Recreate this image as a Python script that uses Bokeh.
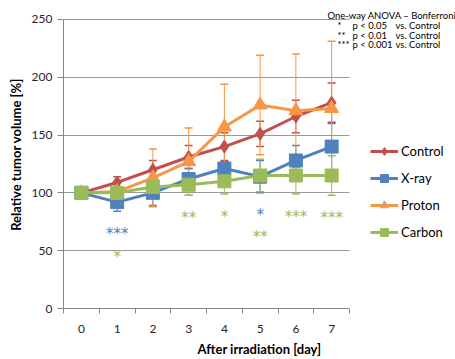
from bokeh.plotting import figure
from bokeh.models import (Range1d, FixedTicker, ColumnDataSource, Whisker, TeeHead,
                          Legend, LegendItem, Label)
from bokeh.core.properties import value
from bokeh.embed import file_html
from bokeh.resources import INLINE

# ---- data ----
days = [0, 1, 2, 3, 4, 5, 6, 7]
day_labels = ["0", "1", "2", "3", "4", "5", "6", "7"]
y_ticks = [0, 50, 100, 150, 200, 250]

series_names = ["Control", "X-ray", "Proton", "Carbon"]
control = [100, 109, 120, 131, 140, 151, 166, 178]
control_err = [0, 5, 8, 10, 12, 11, 14, 17]
xray = [100, 92, 100, 112, 121, 114, 128, 140]
xray_err = [0, 8, 11, 9, 6, 14, 13, 20]
proton = [100, 101, 113, 127, 157, 176, 171, 173]
proton_err = [0, 3, 25, 29, 37, 43, 49, 58]
carbon = [100, 100, 105, 107, 110, 115, 115, 115]
carbon_err = [0, 3, 4, 9, 11, 14, 16, 17]

star_day = [1, 1, 3, 4, 5, 5, 6, 7]
star_y = [72, 52, 86, 87, 89, 70, 87, 86]
star_text = ["***", "*", "**", "*", "*", "**", "***", "***"]
star_series = ["X-ray", "Carbon", "Carbon", "Carbon", "X-ray", "Carbon", "Carbon", "Carbon"]

note_title = "One-way ANOVA \u2013 Bonferroni"
note_stars = ["*", "**", "***"]
note_p = ["p < 0.05", "p < 0.01", "p < 0.001"]
note_vs = ["vs. Control", "vs. Control", "vs. Control"]

colors = {"Control": "#C0504D", "X-ray": "#4F81BD", "Proton": "#F79646", "Carbon": "#9BBB59"}
markers = {"Control": ("diamond", 13), "X-ray": ("square", 13), "Proton": ("triangle", 14), "Carbon": ("square", 13)}
vals = {"Control": (control, control_err), "X-ray": (xray, xray_err),
        "Proton": (proton, proton_err), "Carbon": (carbon, carbon_err)}

FONT = "Lato"
GRID = "#999999"
AXIS = "#868686"
TXT = "#262626"

# frame spans the whole area right of the y axis, so that the notes and legend are not clipped
W, H = 455, 359
LEFT, BOTTOM = 63, 49
PX_PER_DAY = 35.75
PX_PER_PCT = 1.164
x_end = -0.5 + (W - LEFT) / PX_PER_DAY
y_end = (H - BOTTOM) / PX_PER_PCT

p = figure(width=W, height=H, output_backend="svg", toolbar_location=None,
           x_range=Range1d(-0.5, x_end), y_range=Range1d(0, y_end),
           min_border_left=LEFT, min_border_right=0, min_border_top=0, min_border_bottom=BOTTOM)
p.outline_line_color = None
p.background_fill_color = "white"

# axes
p.xaxis.ticker = FixedTicker(ticks=days, minor_ticks=[d - 0.5 for d in days] + [days[-1] + 0.5])
p.xaxis.bounds = (-0.5, days[-1] + 0.5)
p.xaxis.major_label_overrides = {d: l for d, l in zip(days, day_labels)}
p.xaxis.major_tick_line_color = None
p.xaxis.major_tick_out = 0
p.xaxis.major_tick_in = 0
p.xaxis.minor_tick_line_color = AXIS
p.xaxis.minor_tick_out = 5
p.xaxis.minor_tick_in = 0
p.xaxis.major_label_standoff = 11
p.xaxis.axis_label = "After irradiation [day]"
p.xaxis.axis_label_standoff = 5

p.yaxis.ticker = FixedTicker(ticks=y_ticks)
p.yaxis.bounds = (y_ticks[0], y_ticks[-1])
p.yaxis.minor_tick_line_color = None
p.yaxis.major_tick_out = 6
p.yaxis.major_tick_in = 0
p.yaxis.major_tick_line_color = AXIS
p.yaxis.major_label_standoff = 5
p.yaxis.axis_label = "Relative tumor volume [%]"
p.yaxis.axis_label_standoff = 5

for ax in (p.xaxis, p.yaxis):
    ax.axis_line_color = AXIS
    ax.major_label_text_font = FONT
    ax.major_label_text_font_size = "12px"
    ax.major_label_text_color = TXT
    ax.axis_label_text_font = FONT
    ax.axis_label_text_font_size = "13px"
    ax.axis_label_text_font_style = "bold"
    ax.axis_label_text_color = "#000000"

p.xgrid.grid_line_color = None
p.ygrid.ticker = FixedTicker(ticks=y_ticks)
p.ygrid.grid_line_color = GRID
p.ygrid.cross_bounds = (-0.5, days[-1] + 0.5)

for name in series_names:
    ys, errs = vals[name]
    c = colors[name]
    src = ColumnDataSource(dict(
        x=days[1:], upper=[v + e for v, e in zip(ys[1:], errs[1:])],
        lower=[v - e for v, e in zip(ys[1:], errs[1:])]))
    w = Whisker(source=src, base="x", upper="upper", lower="lower", dimension="height",
                line_color=c, line_width=1, level="underlay",
                upper_head=TeeHead(size=8, line_color=c, line_width=1.5),
                lower_head=TeeHead(size=8, line_color=c, line_width=1.5))
    p.add_layout(w)

items = []
for name in series_names:
    ys, errs = vals[name]
    c = colors[name]
    mk, sz = markers[name]
    lr = p.line(days, ys, line_color=c, line_width=3)
    sr = p.scatter(days, ys, marker=mk, size=sz, fill_color=c, line_color=c)
    items.append(LegendItem(label=name, renderers=[lr, sr]))

legend = Legend(items=items, location=(307, 66), padding=0, margin=0, spacing=7,
                glyph_width=28, glyph_height=20, label_height=20,
                label_text_font=FONT, label_text_font_size="13px", label_text_color="#000000",
                label_standoff=3, border_line_color=None, background_fill_alpha=0)
p.add_layout(legend, "center")

# significance stars
sp = ColumnDataSource(dict(x=star_day, y=star_y, t=star_text,
                           c=[colors[s] for s in star_series]))
p.text(x="x", y="y", text="t", source=sp, text_color="c", text_font=value("DejaVu Sans"),
       text_font_size="15px", text_align="center", text_baseline="alphabetic", y_offset=9)

# note (top right)
def px_to_x(px):
    return (px - LEFT) / PX_PER_DAY - 0.5

def py_to_y(py):
    return (H - BOTTOM - py) / PX_PER_PCT

note_style = dict(text_font=FONT, text_font_size="9.5px", text_color="#000000",
                  text_baseline="middle")
p.add_layout(Label(x=px_to_x(327), y=py_to_y(15), text=note_title, **note_style))
for i, (s, t, v) in enumerate(zip(note_stars, note_p, note_vs)):
    yy = py_to_y(25 + i * 9.8)
    p.add_layout(Label(x=px_to_x(337), y=yy, text=s, **note_style))
    p.add_layout(Label(x=px_to_x(352), y=yy, text=t, **note_style))
    p.add_layout(Label(x=px_to_x(395), y=yy, text=v, **note_style))

open("out.html", "w").write(file_html(p, INLINE))
